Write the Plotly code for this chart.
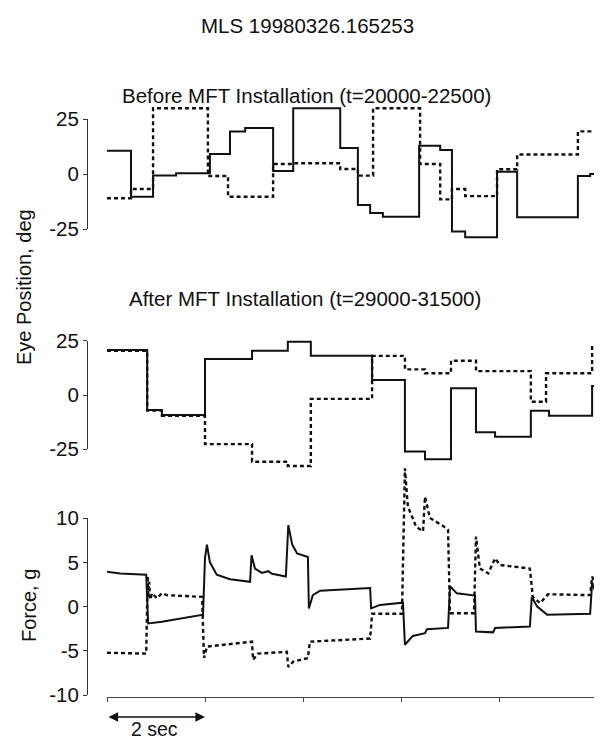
import plotly.graph_objects as go

# ---------------- data (time in seconds, 0..10) ----------------
# Before MFT installation: eye position (deg), step traces (value holds until next time)
before_solid_t = [0, 0.49, 0.94, 1.41, 2.10, 2.51, 2.82, 3.39, 3.80, 4.76, 5.12, 5.37, 5.63, 6.37, 6.80, 7.04, 7.31, 7.96, 8.37, 9.61, 9.86, 10.0]
before_solid_v = [10.7, -10.2, -0.6, 0.5, 9.2, 19.5, 21.0, 1.5, 30.0, 12.0, -14.0, -17.6, -19.3, 13.0, 11.0, -26.0, -28.6, 1.2, -19.5, -0.8, 0.1, 0.1]
before_dash_t = [0, 0.49, 0.94, 2.06, 2.47, 3.39, 3.80, 4.76, 5.12, 5.43, 6.39, 6.80, 7.04, 7.31, 7.96, 8.37, 9.61, 10.0]
before_dash_v = [-10.9, -6.7, 30.0, -0.8, -10.2, 4.7, 5.0, 2.4, -0.6, 30.0, 4.7, -11.4, -6.7, -9.9, 2.3, 9.0, 19.5, 19.5]

# After MFT installation: eye position (deg)
after_solid_t = [0, 0.82, 1.12, 2.00, 2.96, 3.69, 4.16, 5.41, 6.08, 6.49, 7.02, 7.53, 7.92, 8.65, 9.02, 9.90, 10.0]
after_solid_v = [20.7, -6.9, -9.2, 16.6, 20.4, 24.5, 18.1, 6.9, -26.0, -29.6, 3.1, -17.2, -19.2, -7.2, -9.5, 4.1, 4.1]
after_dash_t = [0, 0.82, 1.12, 2.00, 2.96, 3.69, 4.16, 5.41, 6.08, 6.49, 7.02, 7.53, 8.65, 8.96, 9.90, 10.0]
after_dash_v = [20.3, -7.2, -9.6, -22.6, -30.7, -32.7, -1.8, 18.0, 11.8, 10.0, 15.8, 11.0, -3.1, 10.0, 23.0, 23.0]

# Force (g)
force_solid_t = [0, 0.27, 0.80, 0.84, 1.12, 1.96, 2.00, 2.04, 2.10, 2.24, 2.51, 2.92, 2.95, 3.02, 3.16, 3.29, 3.37, 3.65,
                 3.70, 3.78, 3.88, 4.10, 4.12, 4.20, 4.35, 5.37, 5.39, 5.57, 6.04, 6.08, 6.24, 6.49, 6.53, 6.96,
                 7.00, 7.14, 7.51, 7.53, 7.88, 7.92, 8.63, 8.67, 8.78, 8.98, 9.86, 9.90, 9.96, 10.0]
force_solid_v = [3.95, 3.75, 3.6, -1.9, -1.7, -0.9, 5.5, 7.0, 5.0, 3.6, 3.1, 2.8, 5.8, 4.3, 3.8, 4.0, 3.7, 3.4,
                 9.2, 7.0, 6.0, 5.6, -0.2, 1.3, 1.8, 2.1, -0.2, 0.2, 0.45, -4.3, -3.3, -3.0, -2.55, -2.4,
                 2.3, 1.5, 1.25, -2.8, -2.9, -2.4, -2.25, 1.1, 0.0, -0.9, -0.8, 2.7, 1.8, 1.5]
force_dash_t = [0, 0.80, 0.83, 0.84, 0.86, 0.88, 0.92, 1.02, 1.12, 1.22, 1.94, 1.98, 2.04, 2.96, 2.98, 3.08, 3.67,
                3.70, 3.80, 4.10, 4.14, 5.37, 5.41, 6.02, 6.08, 6.12, 6.14, 6.31, 6.45, 6.49, 6.59, 6.86, 6.96,
                7.00, 7.49, 7.53, 7.61, 7.78, 7.92, 8.02, 8.63, 8.69, 8.84, 9.00, 9.86, 9.90, 10.0]
force_dash_v = [-5.2, -5.3, 3.5, 1.0, 2.8, 0.8, 1.5, 0.95, 1.5, 1.3, 1.1, -5.8, -4.5, -3.95, -6.0, -5.3, -5.1,
                -6.8, -6.2, -5.8, -3.95, -3.6, -0.8, -0.8, 15.6, 12.0, 11.3, 9.0, 8.5, 12.4, 10.0, 9.1, 8.65,
                -0.75, -0.75, 7.9, 4.3, 3.75, 5.45, 4.7, 4.3, 1.1, 0.4, 1.4, 1.3, 3.4, 2.0]

eye_ticks = [-25, 0, 25]
eye_ticktext = ["-25", "0", "25"]
force_ticks = [-10, -5, 0, 5, 10]
force_ticktext = ["-10", "-5", "0", "5", "10"]
time_ticks = [0, 2, 4, 6, 8, 10]

main_title = "MLS 19980326.165253"
before_title = "Before MFT Installation (t=20000-22500)"
after_title = "After MFT Installation (t=29000-31500)"
eye_label = "Eye Position, deg"
force_label = "Force, g"
scale_label = "2 sec"

# ---------------- layout helpers (page-pixel geometry) ----------------
PAGE_W, PAGE_H = 602, 744
OFF = 8                      # default page body margin
W, H = PAGE_W - OFF, PAGE_H - OFF
FONT = "Liberation Sans, Arial, Helvetica, sans-serif"
FS = 20.5
INK = "#111111"


def fx(p):
    return (p - OFF) / W


def fy(p):
    return 1 - (p - OFF) / H


def y_pair(v_hi, py_hi, v_lo, py_lo, py_dtop, py_dbot):
    scale = (py_lo - py_hi) / (v_hi - v_lo)
    axis_dom = [fy(py_lo), fy(py_hi)]
    data_dom = [fy(py_dbot), fy(py_dtop)]
    data_rng = [v_lo - (py_dbot - py_lo) / scale, v_hi + (py_hi - py_dtop) / scale]
    return axis_dom, [v_lo, v_hi], data_dom, data_rng


top_ax, top_rng, top_dd, top_dr = y_pair(25, 119.3, -25, 229.3, 98, 250)
mid_ax, mid_rng, mid_dd, mid_dr = y_pair(25, 340.7, -25, 449.3, 325, 482)
frc_ax, frc_rng, frc_dd, frc_dr = y_pair(10, 518, -10, 695.3, 452, 696)

SOLID = dict(color=INK, width=2)
DASH = dict(color=INK, width=2.4, dash="4px,3px")

fig = go.Figure()
fig.add_trace(go.Scatter(x=before_solid_t, y=before_solid_v, mode="lines", line=dict(SOLID, shape="hv"), xaxis="x", yaxis="y"))
fig.add_trace(go.Scatter(x=before_dash_t, y=before_dash_v, mode="lines", line=dict(DASH, shape="hv"), xaxis="x", yaxis="y"))
fig.add_trace(go.Scatter(x=after_solid_t, y=after_solid_v, mode="lines", line=dict(SOLID, shape="hv"), xaxis="x", yaxis="y2"))
fig.add_trace(go.Scatter(x=after_dash_t, y=after_dash_v, mode="lines", line=dict(DASH, shape="hv"), xaxis="x", yaxis="y2"))
fig.add_trace(go.Scatter(x=force_solid_t, y=force_solid_v, mode="lines", line=SOLID, xaxis="x", yaxis="y3"))
fig.add_trace(go.Scatter(x=force_dash_t, y=force_dash_v, mode="lines", line=DASH, xaxis="x", yaxis="y3"))
# empty traces carrying the visible tick axes
for ya in ["y4", "y5", "y6"]:
    fig.add_trace(go.Scatter(x=[None], y=[None], mode="lines", xaxis="x", yaxis=ya, hoverinfo="skip"))

tick_font = dict(family=FONT, size=FS, color=INK)
common_y = dict(anchor="free", position=fx(87), showline=True, linecolor="#333", linewidth=1,
                ticks="outside", ticklen=4, tickcolor="#333", showgrid=False, zeroline=False,
                tickfont=tick_font, fixedrange=True, automargin=False)
hidden_y = dict(visible=False, showgrid=False, zeroline=False, fixedrange=True, automargin=False)

fig.update_layout(
    template="none",
    width=W, height=H, autosize=False,
    margin=dict(l=0, r=0, t=0, b=0, pad=0, autoexpand=False),
    paper_bgcolor="white", plot_bgcolor="rgba(0,0,0,0)",
    showlegend=False,
    xaxis=dict(domain=[fx(107), fx(597)], range=[0, 10], anchor="free", position=fy(697),
               showline=True, linecolor="#444", linewidth=1, ticks="outside", ticklen=4, tickcolor="#444",
               tickvals=time_ticks, showticklabels=False, showgrid=False, zeroline=False, fixedrange=True,
               automargin=False),
    yaxis=dict(hidden_y, domain=top_dd, range=top_dr),
    yaxis2=dict(hidden_y, domain=mid_dd, range=mid_dr),
    yaxis3=dict(hidden_y, domain=frc_dd, range=frc_dr),
    yaxis4=dict(common_y, domain=top_ax, range=top_rng, tickvals=eye_ticks, ticktext=eye_ticktext),
    yaxis5=dict(common_y, domain=mid_ax, range=mid_rng, tickvals=eye_ticks, ticktext=eye_ticktext),
    yaxis6=dict(common_y, domain=frc_ax, range=frc_rng, tickvals=force_ticks, ticktext=force_ticktext),
)

txt = dict(family=FONT, size=FS, color=INK)
lab = dict(family=FONT, size=20, color=INK)
C = dict(xanchor="center", yanchor="middle", showarrow=False, font=txt)
ann = [
    dict(C, text=main_title, x=fx(307), y=fy(25), xref="paper", yref="paper"),
    dict(C, text=before_title, x=fx(306), y=fy(96), xref="paper", yref="paper"),
    dict(C, text=after_title, x=fx(305), y=fy(298), xref="paper", yref="paper"),
    dict(C, text=eye_label, x=fx(24), y=fy(287), xref="paper", yref="paper", textangle=-90, font=lab),
    dict(C, text=force_label, x=fx(29), y=fy(606), xref="paper", yref="paper", textangle=-90, font=lab),
    dict(C, text=scale_label, x=0.96, y=fy(729), xref="x", yref="paper", borderpad=0,
         font=dict(family=FONT, size=19.5, color=INK)),
    dict(text="", x=time_ticks[1], y=fy(717), xref="x", yref="paper", axref="x", ax=time_ticks[0],
         ayref="pixel", ay=0, showarrow=True, arrowside="end+start", arrowhead=2, arrowsize=1.2,
         arrowwidth=1.6, arrowcolor=INK, standoff=0, startstandoff=0),
]
fig.update_layout(annotations=ann)

fig.write_html("out.html")
